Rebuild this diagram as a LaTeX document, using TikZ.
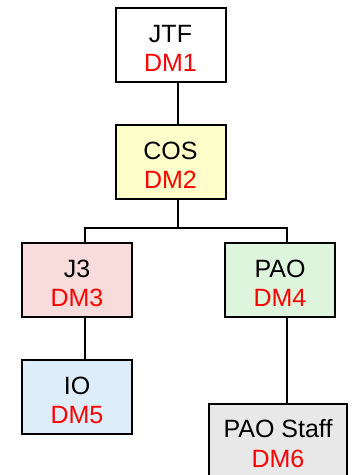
\documentclass[tikz,border=0pt]{standalone}
\usepackage{fontspec}
\setmainfont{Liberation Sans}
\definecolor{cosfill}{HTML}{FFFFCC}
\definecolor{jthreefill}{HTML}{F8DCDC}
\definecolor{paofill}{HTML}{DDF5DD}
\definecolor{iofill}{HTML}{DDEEFA}
\definecolor{stafffill}{HTML}{E8E8E8}
\definecolor{dmred}{HTML}{FF0000}
\tikzset{
  orgbox/.style={draw=black, line width=2pt, minimum width=110pt, minimum height=74pt, inner sep=0pt},
  toptxt/.style={anchor=base, inner sep=0pt, font=\fontsize{25}{29}\selectfont, text=black},
  dmtxt/.style={anchor=base, inner sep=0pt, font=\fontsize{25}{29}\selectfont, text=dmred},
  link/.style={draw=black, line width=1.6pt}
}
\begin{document}
\begin{tikzpicture}[x=1pt,y=-1pt]
\clip (0,0) rectangle (354,475);
\useasboundingbox (0,0) rectangle (354,475);
\fill[white] (0,0) rectangle (354,475);
% boxes
\node[orgbox, fill=white] (jtf) at (170.5,44.5) {};
\node[orgbox, fill=cosfill] (cos) at (170.5,162) {};
\node[orgbox, fill=jthreefill] (jthree) at (77,280) {};
\node[orgbox, fill=paofill] (pao) at (280,280) {};
\node[orgbox, fill=iofill] (io) at (77,397) {};
\node[orgbox, fill=stafffill, minimum width=138pt, minimum height=84pt] (staff) at (278,446) {};
% texts
\node[toptxt] (jtfa) at ([yshift=-36pt]jtf.north) {JTF};
\node[dmtxt] (jtfb) at ([yshift=-65pt]jtf.north) {DM1};
\node[toptxt] (cosa) at ([yshift=-35pt]cos.north) {COS};
\node[dmtxt] (cosb) at ([yshift=-64pt]cos.north) {DM2};
\node[toptxt] (jthreea) at ([yshift=-35pt]jthree.north) {J3};
\node[dmtxt] (jthreeb) at ([yshift=-64pt]jthree.north) {DM3};
\node[toptxt] (paoa) at ([yshift=-35pt]pao.north) {PAO};
\node[dmtxt] (paob) at ([yshift=-64pt]pao.north) {DM4};
\node[toptxt] (ioa) at ([yshift=-35pt]io.north) {IO};
\node[dmtxt] (iob) at ([yshift=-64pt]io.north) {DM5};
\node[toptxt] (staffa) at ([yshift=-34pt]staff.north) {PAO Staff};
\node[dmtxt] (staffb) at ([yshift=-64pt]staff.north) {DM6};
% connectors
\coordinate (fork) at (178,228);
\draw[link] ([xshift=7.5pt]jtf.south) -- ([xshift=7.5pt]cos.north);
\draw[link] ([xshift=7.5pt]cos.south) -- (fork);
\draw[link] ([xshift=8pt]jthree.north) |- (fork) -| ([xshift=7pt]pao.north);
\draw[link] ([xshift=8pt]jthree.south) -- ([xshift=8pt]io.north);
\draw[link] ([xshift=7pt]pao.south) -- ([xshift=7pt]pao.south |- staff.north);
\end{tikzpicture}
\end{document}
